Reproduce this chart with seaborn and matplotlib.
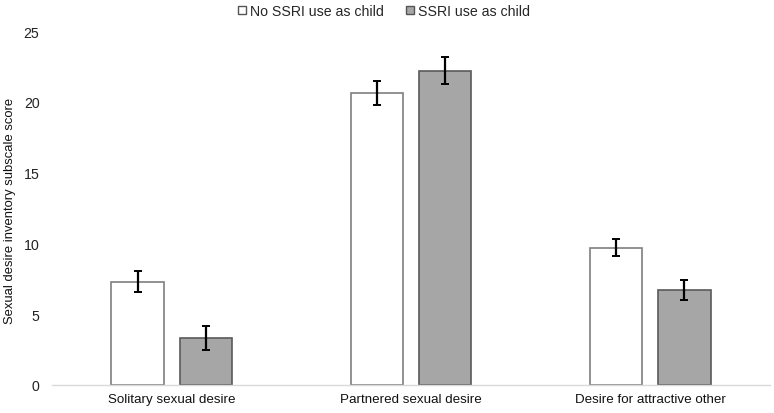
import matplotlib
matplotlib.use("Agg")
import matplotlib.pyplot as plt
import seaborn as sns
import pandas as pd
import numpy as np

categories = ["Solitary sexual desire", "Partnered sexual desire", "Desire for attractive other"]
groups = ["No SSRI use as child", "SSRI use as child"]
no_ssri = [7.3, 20.6, 9.7]
ssri = [3.3, 22.2, 6.7]
no_ssri_err = [0.75, 0.85, 0.6]
ssri_err = [0.85, 0.95, 0.7]

df = pd.DataFrame({
    "category": categories * 2,
    "group": [groups[0]] * 3 + [groups[1]] * 3,
    "score": no_ssri + ssri,
    "err": no_ssri_err + ssri_err,
})

sns.set_theme(style="white")
plt.rcParams["font.family"] = ["Liberation Sans", "DejaVu Sans"]

fig = plt.figure(figsize=(7.74, 4.14), dpi=100)
ax = fig.add_axes([52/774, 1 - 386/414, 718/774, 354/414])

sns.barplot(data=df, x="category", y="score", hue="group", order=categories,
            hue_order=groups, palette=["white", "#a6a6a6"], width=0.57, gap=0.23,
            errorbar=None, ax=ax, legend=False)

edgecols = ["#7f7f7f", "#5a5a5a"]
for i, p in enumerate(ax.patches[:6]):
    p.set_edgecolor(edgecols[i // 3])
    p.set_linewidth(1.2)
    hi = i // 3
    ci = i % 3
    row = df[(df.group == groups[hi]) & (df.category == categories[ci])].iloc[0]
    xc = p.get_x() + p.get_width() / 2
    ax.errorbar(xc, p.get_height(), yerr=row.err, color="black", capsize=3,
                elinewidth=1.6, capthick=1.4, fmt="none", zorder=5)

ax.set_ylim(0, 25)
ax.set_xlim(-0.5, 2.5)
ax.set_yticks([0, 5, 10, 15, 20, 25])
ax.tick_params(axis="y", labelsize=10.2, colors="#222222", length=0, pad=9)
ax.tick_params(axis="x", labelsize=9.6, colors="#111111", length=0, pad=6)
for s in ["top", "right", "left"]:
    ax.spines[s].set_visible(False)
ax.spines["bottom"].set_color("#d9d9d9")
ax.spines["bottom"].set_linewidth(1)
ax.set_xlabel("")
ax.set_ylabel("")
fig.text(10/774, 1 - 211/414, "Sexual desire inventory subscale score", rotation=90,
         ha="center", va="center", fontsize=9.4, color="#111111")

from matplotlib.patches import Patch
handles = [Patch(facecolor="white", edgecolor="#555555", label=groups[0]),
           Patch(facecolor="#a6a6a6", edgecolor="#555555", label=groups[1])]
fig.legend(handles=handles, loc="center", bbox_to_anchor=(384/774, 1 - 12/414), ncol=2,
           frameon=False, fontsize=10.2, handlelength=0.55, handleheight=0.55,
           handletextpad=0.25, columnspacing=1.6)

fig.savefig("out.png", dpi=100)
